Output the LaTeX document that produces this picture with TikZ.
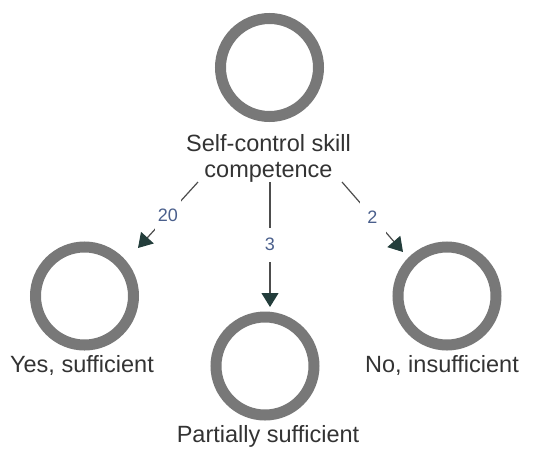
\documentclass[tikz,border=0pt]{standalone}
\usepackage{fontspec}
\setmainfont{Liberation Sans}
\usetikzlibrary{arrows.meta}
\definecolor{ringgray}{HTML}{787878}
\definecolor{txt}{HTML}{333333}
\definecolor{edgecol}{HTML}{4D4D4D}
\definecolor{tipcol}{HTML}{233D3B}
\definecolor{lblblue}{HTML}{4A5F8C}
\begin{document}
\begin{tikzpicture}[x=1pt,y=-1pt,
  ring/.style={circle,draw=ringgray,line width=11pt,minimum size=98pt,inner sep=0pt},
  lbl/.style={font=\fontsize{23.5}{26}\selectfont,text=txt,inner sep=0pt,anchor=base},
  conn/.style={draw=edgecol,line width=1.2pt,-{Triangle[length=14pt,width=17pt,fill=tipcol,color=tipcol]}},
  num/.style={font=\fontsize{18}{20}\selectfont,text=lblblue,fill=white,inner sep=0pt,minimum height=34pt,minimum width=26pt}]
\useasboundingbox (0,0) rectangle (533,448);
\node[ring] (top) at (269.5,67.5) {};
\node[ring] (yes) at (84.5,296) {};
\node[ring] (part) at (265,366) {};
\node[ring] (no) at (447,296) {};
\node[lbl,align=center] (topl) at (268.5,177) {Self-control skill\\competence};
\node[lbl] (yesl) at (82,372) {Yes, sufficient};
\node[lbl] (nol) at (442,372) {No, insufficient};
\node[lbl] (partl) at (268,442) {Partially sufficient};
\coordinate (sL) at (198,182);
\coordinate (tL) at (138,248);
\coordinate (sM) at (270,182);
\coordinate (tM) at (270,307);
\coordinate (sR) at (342,182);
\coordinate (tR) at (403,252);
\draw[conn] (sL) -- node[num] (n20) {20} (tL);
\draw[conn] (sM) -- node[num,pos=0.5] (n3) {3} (tM);
\draw[conn] (sR) -- node[num] (n2) {2} (tR);
\end{tikzpicture}
\end{document}
